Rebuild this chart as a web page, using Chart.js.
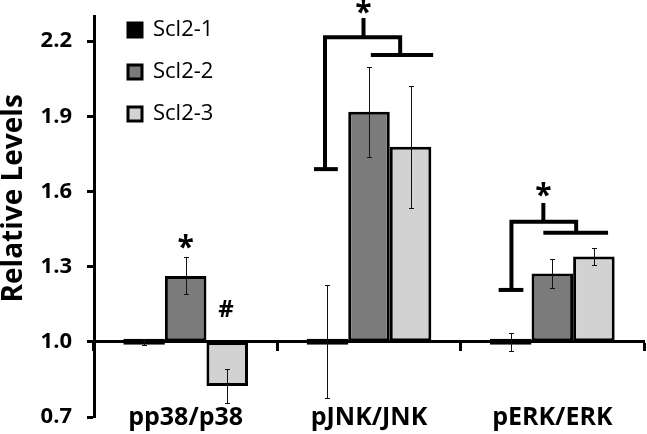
<!DOCTYPE html>
<html>
<head>
<meta charset="utf-8">
<script src="https://cdn.jsdelivr.net/npm/chart.js@4.4.1/dist/chart.umd.min.js"></script>
<style>
  html, body { margin: 0; padding: 0; background: #fff; }
  #wrap { width: 647px; height: 434px; }
</style>
</head>
<body>
<div id="wrap"><canvas id="c" width="647" height="434"></canvas></div>
<script>
// ---- data ----
const categories = ['pp38/p38', 'pJNK/JNK', 'pERK/ERK'];
const seriesNames = ['Scl2-1', 'Scl2-2', 'Scl2-3'];
const scl21 = [1.0, 1.0, 1.0];
const scl22 = [1.263, 1.918, 1.273];
const scl23 = [0.824, 1.778, 1.340];
const err21 = [0.012, 0.225, 0.036];
const err22 = [0.074, 0.18, 0.058];
const err23 = [0.068, 0.244, 0.033];
const yTicks = [0.7, 1.0, 1.3, 1.6, 1.9, 2.2];

// significance annotations (category index + offset, value units)
const bracketDefs = [
  { cat: 1, segL: [-0.30, -0.17], xL: -0.24, yL: 1.689, yTop: 2.215, xR: 0.17, yR: 2.144, segR: [0.01, 0.35], stemX: -0.03, stemTop: 2.292 },
  { cat: 2, segL: [-0.293, -0.158], xL: -0.223, yL: 1.207, yTop: 1.479, xR: 0.13, yR: 1.435, segR: [-0.049, 0.304], stemX: -0.049, stemTop: 1.554 }
];
const markDefs = [
  { text: '*', cat: 0, dx: 0.0, y: 1.374, size: 30 },
  { text: '#', cat: 0, dx: 0.22, y: 1.127, size: 24 },
  { text: '*', cat: 1, dx: -0.03, y: 2.312, size: 30 },
  { text: '*', cat: 2, dx: -0.049, y: 1.579, size: 30 }
];

const FONT = "'Open Sans', 'DejaVu Sans', sans-serif";
Chart.defaults.font.family = FONT;
Chart.defaults.color = '#000';

const errorBars = {
  id: 'errorBars',
  afterDatasetsDraw(chart) {
    const ctx = chart.ctx, ys = chart.scales.y;
    chart.data.datasets.forEach((ds, di) => {
      const meta = chart.getDatasetMeta(di);
      meta.data.forEach((bar, i) => {
        const v = ds.data[i], e = ds.errors[i];
        const t = Math.round(ys.getPixelForValue(v + e)) + 0.5;
        const b = Math.round(ys.getPixelForValue(v - e)) + 0.5;
        const x = Math.round(bar.x) + 0.5;
        ctx.save();
        ctx.strokeStyle = '#111';
        ctx.lineWidth = 1;
        ctx.beginPath();
        ctx.moveTo(x, t); ctx.lineTo(x, b);
        ctx.moveTo(x - 2.5, t); ctx.lineTo(x + 2.5, t);
        ctx.moveTo(x - 2.5, b); ctx.lineTo(x + 2.5, b);
        ctx.stroke();
        ctx.restore();
      });
    });
  }
};

const annotations = {
  id: 'annotations',
  afterDraw(chart) {
    const ctx = chart.ctx, xs = chart.scales.x, ys = chart.scales.y;
    const X = (c, d) => xs.getPixelForValue(c + d);
    const Y = v => ys.getPixelForValue(v);
    ctx.save();
    ctx.strokeStyle = '#000';
    ctx.lineWidth = 4;
    ctx.lineCap = 'butt';
    ctx.lineJoin = 'miter';
    bracketDefs.forEach(b => {
      ctx.beginPath();
      ctx.moveTo(X(b.cat, b.segL[0]), Y(b.yL)); ctx.lineTo(X(b.cat, b.segL[1]), Y(b.yL));
      ctx.stroke();
      ctx.beginPath();
      ctx.moveTo(X(b.cat, b.xL), Y(b.yL));
      ctx.lineTo(X(b.cat, b.xL), Y(b.yTop));
      ctx.lineTo(X(b.cat, b.xR), Y(b.yTop));
      ctx.lineTo(X(b.cat, b.xR), Y(b.yR));
      ctx.stroke();
      ctx.beginPath();
      ctx.moveTo(X(b.cat, b.segR[0]), Y(b.yR)); ctx.lineTo(X(b.cat, b.segR[1]), Y(b.yR));
      ctx.stroke();
      ctx.beginPath();
      ctx.moveTo(X(b.cat, b.stemX), Y(b.yTop)); ctx.lineTo(X(b.cat, b.stemX), Y(b.stemTop));
      ctx.stroke();
    });
    ctx.fillStyle = '#000';
    ctx.textAlign = 'center';
    ctx.textBaseline = 'middle';
    markDefs.forEach(m => {
      ctx.font = 'bold ' + m.size + 'px ' + FONT;
      ctx.fillText(m.text, X(m.cat, m.dx), Y(m.y));
    });
    ctx.restore();
  }
};

const legendShift = {
  id: 'legendShift',
  afterLayout(chart) {
    const lg = chart.legend;
    if (!lg) return;
    const dx = 14, dy = -1;
    lg.left += dx; lg.right += dx; lg.top += dy; lg.bottom += dy;
  }
};

const noPad = s => { s.paddingLeft = 0; s.paddingRight = 0; s.paddingTop = 0; s.paddingBottom = 0; };

const fills = ['#000000', '#7b7b7b', '#d2d2d2'];
const values = [scl21, scl22, scl23];
const errs = [err21, err22, err23];

new Chart(document.getElementById('c'), {
  type: 'bar',
  data: {
    labels: categories,
    datasets: seriesNames.map((n, i) => ({
      label: n,
      data: values[i],
      errors: errs[i],
      base: 1.0,
      backgroundColor: fills[i],
      borderColor: '#000',
      borderWidth: 3,
      borderSkipped: false,
      minBarLength: 6,
      barPercentage: 1.0,
      categoryPercentage: 0.68
    }))
  },
  options: {
    responsive: false,
    animation: false,
    events: [],
    layout: { padding: { left: 0, right: 3, top: 16, bottom: 17 } },
    plugins: {
      tooltip: { enabled: false },
      legend: {
        display: true,
        position: 'chartArea',
        align: 'start',
        labels: {
          boxWidth: 14,
          boxHeight: 14,
          padding: 20,
          color: '#000',
          font: { family: FONT, size: 22 }
        }
      }
    },
    scales: {
      x: {
        type: 'category',
        position: { y: 1.0 },
        offset: true,
        border: { display: true, width: 3, color: '#000' },
        grid: { display: true, offset: true, drawOnChartArea: false, drawTicks: true, tickLength: 8, tickWidth: 3, tickColor: '#000', color: '#000' },
        ticks: { padding: 56, color: '#000', maxRotation: 0, autoSkip: false, font: { family: FONT, size: 25, weight: 'bold', lineHeight: 1 } },
        afterFit: noPad
      },
      y: {
        min: 0.7,
        max: 2.3,
        afterBuildTicks(s) { s.ticks = yTicks.map(v => ({ value: v })); },
        border: { display: true, width: 3, color: '#000' },
        grid: { drawOnChartArea: false, drawTicks: true, tickLength: 7, tickWidth: 3, tickColor: '#000', color: '#000' },
        ticks: {
          padding: 15,
          color: '#000',
          font: { family: FONT, size: 22, weight: 'bold' },
          callback: v => Number(v).toFixed(1)
        },
        title: {
          display: true,
          text: '     Relative Levels',
          color: '#000',
          font: { family: FONT, size: 28, weight: 'bold', lineHeight: 1 },
          padding: { top: 0, bottom: 0 }
        },
        afterFit(s) { s.width = 94; noPad(s); }
      }
    }
  },
  plugins: [errorBars, annotations, legendShift]
});
</script>
</body>
</html>
